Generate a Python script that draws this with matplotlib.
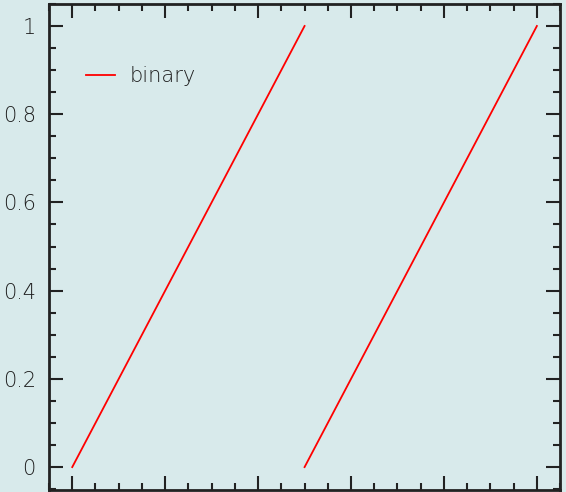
import matplotlib
matplotlib.use("Agg")
import matplotlib.pyplot as plt
from matplotlib.ticker import MultipleLocator

# two ramps of a binary sweep: 0 -> 1, then again 0 -> 1
ramp1_x = [0.0, 1.0]
ramp1_y = [0.0, 1.0]
ramp2_x = [1.0, 2.0]
ramp2_y = [0.0, 1.0]
ytick_labels = ["0", "0.2", "0.4", "0.6", "0.8", "1"]

bg = "#d8eaeb"
plt.rcParams["font.family"] = ["DejaVu Sans"]
plt.rcParams["font.weight"] = 200

fig = plt.figure(figsize=(5.66, 4.92), dpi=100, facecolor=bg)
ax = fig.add_axes([0.0866, 0.004, 0.903, 0.988], facecolor=bg)

ax.plot(ramp1_x, ramp1_y, color="red", lw=1.3, label="binary")
ax.plot(ramp2_x, ramp2_y, color="red", lw=1.3)

ax.set_xlim(-0.1, 2.1)
ax.set_ylim(-0.052, 1.05)
ax.xaxis.set_major_locator(MultipleLocator(0.4))
ax.xaxis.set_minor_locator(MultipleLocator(0.1))
ax.set_yticks([0, 0.2, 0.4, 0.6, 0.8, 1.0])
ax.set_yticklabels(ytick_labels)
ax.yaxis.set_minor_locator(MultipleLocator(0.05))
ax.set_xticklabels([])

ax.tick_params(which="both", direction="in", top=True, right=True,
               width=1.5, color="#222222")
ax.tick_params(which="major", length=10, labelsize=15, pad=9.5,
               labelcolor="#1e1e1e")
ax.tick_params(which="minor", length=5)
for sp in ax.spines.values():
    sp.set_linewidth(2)
    sp.set_color("#222222")

ax.legend(loc="center left", bbox_to_anchor=(0.072, 0.852), frameon=False,
          borderpad=0, borderaxespad=0, fontsize=15, handlelength=1.4,
          handletextpad=0.72, labelcolor="#1e1e1e")

fig.savefig("out.png", dpi=100, facecolor=bg)
